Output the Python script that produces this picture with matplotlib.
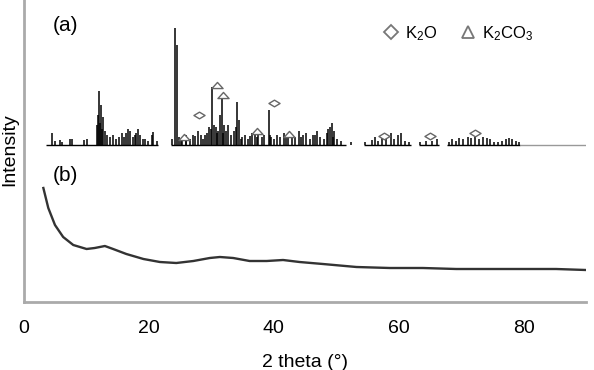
import numpy as np
import matplotlib.pyplot as plt
from matplotlib.path import Path
from matplotlib.lines import Line2D

plt.rcParams['font.family'] = ['Liberation Sans', 'DejaVu Sans']
plt.rcParams['mathtext.fontset'] = 'custom'
plt.rcParams['mathtext.rm'] = 'Liberation Sans'
plt.rcParams['mathtext.it'] = 'Liberation Sans'

# pattern (a): crystalline peaks, 2theta and height above the baseline
peak_theta = [4.45, 4.96, 5.77, 6.07, 7.39, 7.69, 9.61, 10.02, 11.74, 12.04, 12.35, 12.65,
              12.95, 13.36, 13.76, 14.27, 14.78, 15.18, 15.69, 16.09, 16.6, 17.0, 17.41,
              17.81, 18.22, 18.62, 19.03, 19.33, 19.84, 20.44, 20.64, 21.25, 23.78, 24.19,
              24.49, 24.9, 25.3, 25.91, 26.51, 27.12, 27.83, 28.34, 28.74, 29.25, 29.65,
              30.06, 30.46, 30.97, 31.37, 31.68, 32.08, 32.69, 33.19, 33.6, 34.1, 34.41,
              34.91, 35.42, 35.93, 36.53, 37.04, 37.55, 38.05, 38.46, 39.16, 39.57, 40.08,
              40.58, 40.99, 41.69, 42.3, 42.91, 43.41, 44.02, 44.63, 45.14, 45.74, 46.35,
              46.86, 47.36, 47.97, 48.47, 48.98, 49.28, 49.69, 50.2, 50.8, 52.32, 54.65,
              55.66, 56.27, 56.67, 57.38, 57.99, 58.7, 59.2, 59.91, 60.32, 61.02, 61.73,
              63.45, 64.36, 65.27, 66.08, 68.01, 68.61, 69.12, 69.73, 70.33, 71.04, 71.55,
              72.16, 72.86, 73.47, 74.18, 74.69, 75.29, 75.9, 76.51, 77.11, 77.62, 78.13,
              78.73, 79.24,
              11.9, 12.2, 12.5, 16.3, 18.0, 25.1, 26.0, 27.4, 29.0, 29.9, 30.7, 31.1,
              31.9, 32.4, 33.9, 34.7, 36.2, 37.3, 39.4, 42.0, 44.3, 46.6, 48.7, 49.5]
peak_height = [12, 4, 5, 3, 6, 6, 5, 6, 20, 54, 40, 28,
               14, 10, 8, 10, 6, 8, 12, 8, 16, 14, 8,
               10, 16, 10, 6, 6, 4, 10, 13, 4, 6, 117,
               100, 8, 6, 10, 6, 10, 14, 10, 6, 12, 18,
               58, 20, 12, 30, 48, 20, 20, 10, 14, 43, 25,
               8, 10, 6, 12, 14, 10, 8, 10, 35, 8, 6,
               10, 8, 12, 10, 8, 8, 14, 10, 12, 6, 10,
               14, 8, 6, 12, 18, 22, 14, 6, 4, 3, 3,
               5, 8, 4, 10, 10, 12, 6, 10, 12, 4, 3,
               3, 4, 4, 6, 3, 6, 4, 7, 6, 8, 7,
               8, 6, 8, 7, 6, 3, 3, 4, 6, 7, 6,
               4, 3,
               30, 22, 16, 12, 12, 5, 8, 9, 10, 16, 18, 14,
               12, 14, 18, 6, 9, 8, 10, 7, 8, 10, 16, 8]
base_start = [3.54, 23.58, 54.45, 63.25, 67.8]
base_end = [21.45, 51.61, 62.04, 66.39, 79.44]
a_offset = 157
a_end = 90

# phase markers (2theta, height above baseline)
k2o_theta = [28.03, 39.97, 57.68, 64.97, 72.16]
k2o_height = [30, 42, 9, 9, 12]
k2co3_theta = [25.6, 30.97, 31.88, 37.24, 42.4]
k2co3_height = [8, 60, 50, 14, 11]

# pattern (b): amorphous curve
b_theta = [3.1, 3.89, 4.96, 6.27, 7.89, 10.02, 11.33, 12.95, 14.27, 16.39, 19.13, 21.76,
           24.39, 27.12, 29.75, 31.37, 33.5, 36.13, 38.86, 41.49, 44.12, 47.87, 53.23,
           58.59, 63.86, 69.22, 74.58, 79.85, 85.21, 90.0]
b_int = [114, 94, 77, 65, 57, 53, 54, 56, 53, 48, 43, 40,
         39, 41, 44, 45, 44, 41, 41, 42, 40, 38, 35,
         34, 34, 33, 33, 33, 33, 32]

diamond = Path([(-1, 0), (0, 0.6), (1, 0), (0, -0.6), (-1, 0)],
               [Path.MOVETO, Path.LINETO, Path.LINETO, Path.LINETO, Path.CLOSEPOLY])
tri = Path([(-1, -0.55), (0, 0.55), (1, -0.55), (-1, -0.55)],
           [Path.MOVETO, Path.LINETO, Path.LINETO, Path.CLOSEPOLY])

fig = plt.figure(figsize=(5.94, 3.70), dpi=100)
ax = fig.add_axes([24 / 594, 1 - 302 / 370, 562 / 594, 302 / 370])

ax.hlines([a_offset] * len(base_start), base_start, base_end, color='black', lw=1.0)
ax.hlines(a_offset, base_end[-1], a_end, color='#999999', lw=1.0)
ax.vlines(peak_theta, a_offset, a_offset + np.array(peak_height), color='black', lw=1.1)

ax.plot(k2o_theta, a_offset + np.array(k2o_height), ls='none', marker=diamond,
        ms=8, mfc='white', mec='#666666', mew=1.0)
ax.plot(k2co3_theta, a_offset + np.array(k2co3_height), ls='none', marker=tri,
        ms=8, mfc='white', mec='#666666', mew=1.0)

ax.plot(b_theta, b_int, color='#333333', lw=1.7)

handles = [Line2D([], [], ls='none', marker='D', ms=7, mfc='none', mec='#777777', mew=1.3),
           Line2D([], [], ls='none', marker='^', ms=8, mfc='none', mec='#777777', mew=1.3)]
ax.legend(handles, ['K$_2$O', 'K$_2$CO$_3$'], ncol=2, loc='center',
          bbox_to_anchor=(0.772, 0.89), frameon=False, fontsize=12,
          handlelength=1.0, handletextpad=0.3, columnspacing=1.4)

ax.text(0.073, 0.917, '(a)', transform=ax.transAxes, fontsize=15,
        ha='center', va='center')
ax.text(0.073, 0.42, '(b)', transform=ax.transAxes, fontsize=15,
        ha='center', va='center')

ax.set_xlim(0, 90)
ax.set_ylim(0, 302)
ax.set_xticks([0, 20, 40, 60, 80])
ax.set_yticks([])
ax.tick_params(axis='x', length=0, pad=13, labelsize=14)
for s in ['top', 'right']:
    ax.spines[s].set_visible(False)
for s in ['left', 'bottom']:
    ax.spines[s].set_color('#aaaaaa')
    ax.spines[s].set_linewidth(2)
ax.set_ylabel('Intensity', fontsize=14)
ax.yaxis.set_label_coords(-0.011, 0.503)
ax.set_xlabel('2 theta (°)', fontsize=14, labelpad=12)

fig.savefig('out.png', dpi=100)
